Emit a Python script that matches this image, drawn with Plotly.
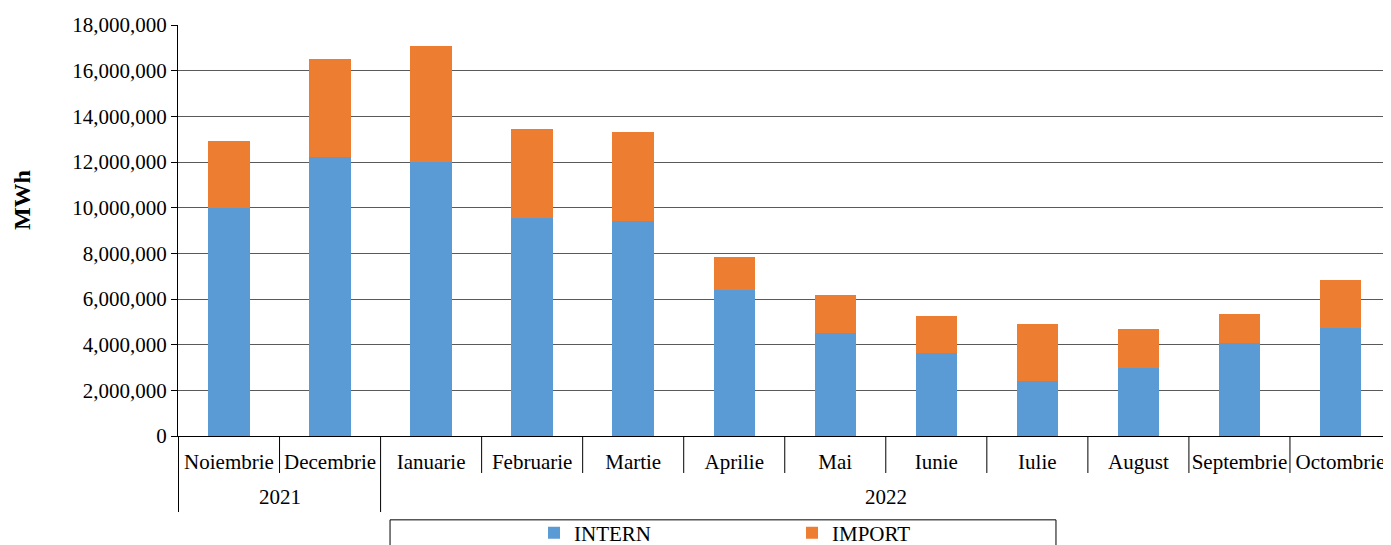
import plotly.graph_objects as go

# monthly electricity supply, MWh
months = ["Noiembrie", "Decembrie", "Ianuarie", "Februarie", "Martie", "Aprilie",
          "Mai", "Iunie", "Iulie", "August", "Septembrie", "Octombrie"]
years = ["2021", "2021", "2022", "2022", "2022", "2022",
         "2022", "2022", "2022", "2022", "2022", "2022"]
intern = [10000000, 12200000, 12020000, 9540000, 9420000, 6390000,
          4510000, 3640000, 2410000, 2980000, 4070000, 4730000]
imports = [2920000, 4300000, 5050000, 3910000, 3900000, 1450000,
           1670000, 1620000, 2500000, 1710000, 1270000, 2100000]
y_ticks = list(range(0, 18000001, 2000000))

FONT = "Liberation Serif"
BLUE = "#5B9BD5"
ORANGE = "#ED7D31"
GRID = "#5a5a5a"

fig = go.Figure()
fig.add_trace(go.Bar(x=months, y=intern, name="INTERN", marker_color=BLUE,
                     marker_line_width=0))
fig.add_trace(go.Bar(x=months, y=imports, name="IMPORT", marker_color=ORANGE,
                     marker_line_width=0))

# dividers under the category axis
shapes = []
for i in range(len(months) - 1):
    b = i + 0.5
    year_edge = years[i] != years[i + 1]
    shapes.append(dict(type="line", xref="x", yref="paper", x0=b, x1=b,
                       y0=0, y1=-0.185 if year_edge else -0.09,
                       line=dict(color="#000000", width=1)))
shapes.append(dict(type="line", xref="x", yref="paper", x0=-0.5, x1=-0.5,
                   y0=0, y1=-0.185, line=dict(color="#000000", width=1)))
# legend frame
shapes.append(dict(type="rect", xref="paper", yref="paper",
                   x0=0.1748, x1=0.7238, y0=-0.204, y1=-0.45,
                   line=dict(color="#000000", width=1)))

annotations = []
for yr in sorted(set(years)):
    idx = [i for i, y in enumerate(years) if y == yr]
    annotations.append(dict(x=sum(idx) / len(idx), y=-0.148, xref="x", yref="paper",
                            text=yr, showarrow=False, yanchor="middle",
                            font=dict(family=FONT, size=21, color="#000000")))
annotations.append(dict(x=-0.1286, y=0.574, xref="paper", yref="paper",
                        xanchor="center", yanchor="middle",
                        text="<b>MWh</b>", textangle=-90, showarrow=False,
                        font=dict(family=FONT, size=24, color="#000000")))

# page body has an 8px margin, so the figure is shrunk by that much
fig.update_layout(
    barmode="stack",
    bargap=0.59,
    width=1383, height=537,
    margin=dict(l=170, r=0, t=17, b=109, autoexpand=False),
    paper_bgcolor="white", plot_bgcolor="white",
    font=dict(family=FONT, size=21, color="#000000"),
    shapes=shapes,
    annotations=annotations,
    legend=dict(orientation="h", traceorder="normal",
                x=0.2935, xanchor="left", y=-0.236, yanchor="middle",
                entrywidth=213, entrywidthmode="pixels",
                font=dict(family=FONT, size=21, color="#000000"),
                bgcolor="rgba(0,0,0,0)"),
)
fig.update_xaxes(type="category", automargin=False,
                 showline=True, linecolor="#000000", linewidth=1,
                 ticks="outside", ticklen=7, tickcolor="rgba(0,0,0,0)",
                 showgrid=False)
fig.update_yaxes(range=[0, 18000000], tickvals=y_ticks, tickformat=",d",
                 automargin=False,
                 showgrid=True, gridcolor=GRID, gridwidth=1,
                 showline=True, linecolor="#000000", linewidth=1,
                 ticks="outside", ticklen=6, tickcolor="#000000",
                 zeroline=True, zerolinecolor="#000000", zerolinewidth=1)

fig.write_html("out.html")
